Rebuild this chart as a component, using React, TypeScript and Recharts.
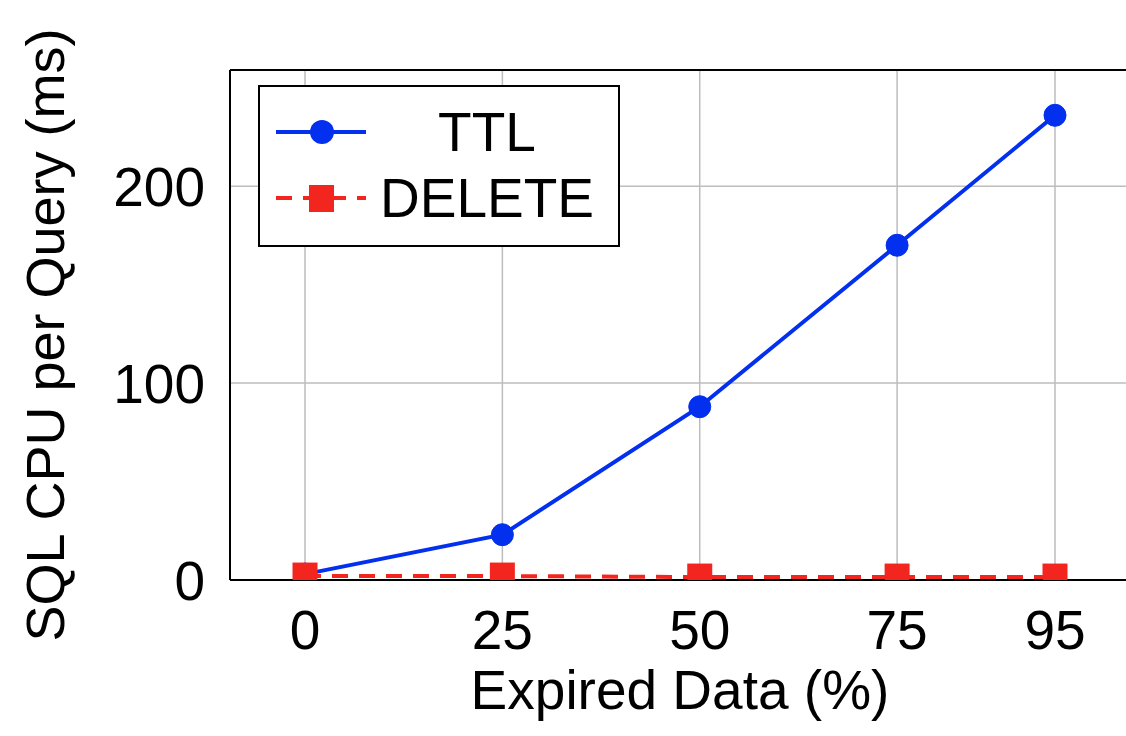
import { CartesianGrid, Legend, Line, LineChart, ReferenceLine, XAxis, YAxis } from "recharts"

const expiredPct = [0, 25, 50, 75, 95]
const ttlCpu = [3, 23, 88, 170, 236]
const deleteCpu = [2, 2, 1.5, 1.5, 1.5]
const yTicks = [0, 100, 200]

const BLUE = "#0230ee"
const RED = "#f3261f"
const FONT = "'Liberation Sans', Arial, sans-serif"
const Y_MAX = 259

const data = expiredPct.map((x, i) => ({ x, ttl: ttlCpu[i], del: deleteCpu[i] }))

const SquareDot = (props: any) => {
  const { cx, cy, key } = props
  if (cx == null || cy == null) return null
  return <rect key={key} x={cx - 12.5} y={cy - 13.5} width={25} height={27} fill={RED} />
}

const LegendBox = () => (
  <div
    style={{
      width: 362,
      height: 162,
      border: "2px solid #000",
      background: "#fff",
      fontFamily: FONT,
      fontSize: 55,
      paddingTop: 12,
      paddingBottom: 14,
      boxSizing: "border-box",
    }}
  >
    <div style={{ display: "flex", alignItems: "center", height: 66 }}>
      <svg width={90} height={40} style={{ marginLeft: 16 }}>
        <line x1={0} y1={20} x2={90} y2={20} stroke={BLUE} strokeWidth={4} />
        <circle cx={46} cy={20} r={12} fill={BLUE} />
      </svg>
      <div style={{ width: 226, marginLeft: 8, textAlign: "center" }}>TTL</div>
    </div>
    <div style={{ display: "flex", alignItems: "center", height: 66 }}>
      <svg width={90} height={40} style={{ marginLeft: 16 }}>
        <line x1={0} y1={20} x2={90} y2={20} stroke={RED} strokeWidth={4} strokeDasharray="16 11" />
        <rect x={33} y={7} width={25} height={27} fill={RED} />
      </svg>
      <div style={{ width: 226, marginLeft: 8, textAlign: "center" }}>DELETE</div>
    </div>
  </div>
)

export default function App() {
  return (
    <div
      style={{
        position: "absolute",
        left: 0,
        top: 0,
        width: 1126,
        height: 736,
        overflow: "hidden",
        background: "#fff",
      }}
    >
      <LineChart width={1130} height={736} data={data} margin={{ top: 70, right: 0, bottom: 0, left: 100 }}>
        <CartesianGrid stroke="#bdbdbd" strokeWidth={1.5} />
        <XAxis
          dataKey="x"
          type="number"
          domain={[-9.5, 104.5]}
          ticks={expiredPct}
          allowDataOverflow
          height={156}
          tickSize={0}
          tickMargin={30}
          axisLine={{ stroke: "#000", strokeWidth: 2 }}
          tick={{ fill: "#000", fontSize: 55, fontFamily: FONT }}
          label={{
            content: ({ viewBox }: any) => (
              <text
                x={viewBox.x + viewBox.width / 2}
                y={viewBox.y + 110}
                textAnchor="middle"
                dominantBaseline="central"
                fontSize={55}
                fontFamily={FONT}
                fill="#000"
              >
                Expired Data (%)
              </text>
            ),
          }}
        />
        <YAxis
          type="number"
          domain={[0, Y_MAX]}
          ticks={yTicks}
          allowDataOverflow
          width={130}
          tickSize={0}
          tickMargin={25}
          axisLine={{ stroke: "#000", strokeWidth: 2 }}
          tick={{ fill: "#000", fontSize: 55, fontFamily: FONT }}
          label={{
            content: ({ viewBox }: any) => {
              const x = viewBox.x - 55
              const y = viewBox.y + viewBox.height / 2 + 10
              return (
                <text
                  x={x}
                  y={y}
                  transform={`rotate(-90 ${x} ${y})`}
                  textAnchor="middle"
                  dominantBaseline="central"
                  fontSize={54}
                  fontFamily={FONT}
                  fill="#000"
                >
                  SQL CPU per Query (ms)
                </text>
              )
            },
          }}
        />
        <ReferenceLine y={Y_MAX} stroke="#000" strokeWidth={2} />
        <Legend
          layout="vertical"
          align="center"
          verticalAlign="middle"
          content={() => <LegendBox />}
          wrapperStyle={{ left: 258, top: 85, width: 362, height: 162 }}
        />
        <Line
          dataKey="ttl"
          name="TTL"
          stroke={BLUE}
          strokeWidth={4}
          dot={{ r: 11, fill: BLUE, stroke: BLUE, strokeWidth: 1 }}
          isAnimationActive={false}
        />
        <Line
          dataKey="del"
          name="DELETE"
          stroke={RED}
          strokeWidth={4}
          strokeDasharray="16 11"
          dot={SquareDot}
          isAnimationActive={false}
        />
      </LineChart>
    </div>
  )
}
